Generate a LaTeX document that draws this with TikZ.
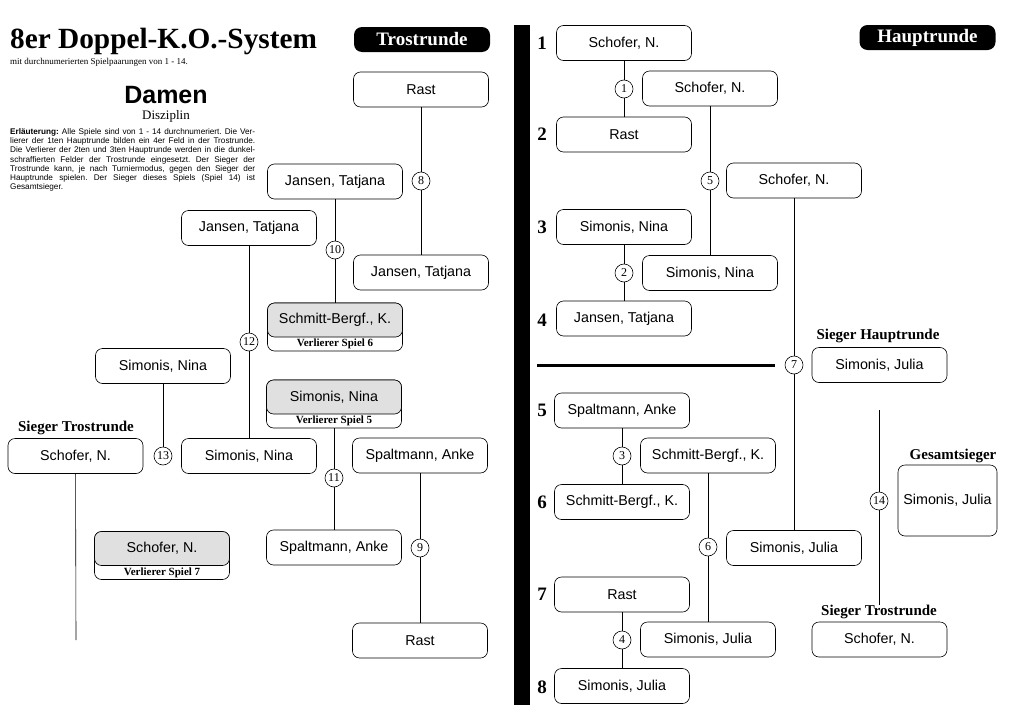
\documentclass[tikz,border=0pt]{standalone}
\usepackage{fontspec}
\setmainfont{Liberation Serif}
\setsansfont{Liberation Sans}
\newcommand\jline[1]{\hbox to 245pt{#1}}
\begin{document}
\frenchspacing
\begin{tikzpicture}[x=1pt,y=-1pt,
  pbox/.style={draw, rounded corners=7pt, minimum width=135pt, minimum height=35pt, inner sep=0pt, line width=0.6pt, font=\sffamily\fontsize{14.3}{14.3}\selectfont},
  shadedbox/.style={pbox, fill=black!12},
  vouter/.style={draw, rounded corners=7pt, minimum width=135pt, minimum height=48pt, inner sep=0pt, line width=0.6pt},
  vlab/.style={font=\bfseries\fontsize{11}{11}\selectfont, inner sep=0pt},
  gnum/.style={draw, circle, minimum size=18pt, inner sep=0pt, line width=0.6pt, fill=white, font=\fontsize{12}{12}\selectfont},
  headbox/.style={fill=black, rounded corners=8pt, minimum width=136pt, minimum height=25pt, inner sep=0pt, text=white, font=\bfseries\fontsize{19}{19}\selectfont},
  rnum/.style={font=\bfseries\fontsize{19}{19}\selectfont, inner sep=0pt},
  slab/.style={font=\bfseries\fontsize{15}{15}\selectfont, inner sep=0pt},
  conn/.style={line width=0.6pt}
]
\useasboundingbox (0,0) rectangle (1017,720);

% ---------- header left ----------
\node[anchor=base west, inner sep=0pt, font=\bfseries\fontsize{29.3}{29.3}\selectfont] (title) at (10,48) {8er Doppel-K.O.-System};
\node[anchor=base west, inner sep=0pt, font=\fontsize{9}{9}\selectfont] (sub) at (10,64) {mit durchnumerierten Spielpaarungen von 1 - 14.};
\node[inner sep=0pt, font=\sffamily\bfseries\fontsize{25}{25}\selectfont] (damen) at (166,95) {Damen};
\node[inner sep=0pt, font=\fontsize{13}{13}\selectfont] (disz) at (166,116) {Disziplin};
\node[anchor=north west, inner sep=0pt, font=\sffamily\fontsize{8.2}{8.2}\selectfont] (expl) at (10,128) {\vbox{\baselineskip=9.3pt
\jline{\textbf{Erläuterung:} Alle Spiele sind von 1 - 14 durchnumeriert. Die Ver-}
\jline{lierer der 1ten Hauptrunde bilden ein 4er Feld in der Trostrunde.}
\jline{Die Verlierer der 2ten und 3ten Hauptrunde werden in die dunkel-}
\jline{schraffierten Felder der Trostrunde eingesetzt. Der Sieger der}
\jline{Trostrunde kann, je nach Turniermodus, gegen den Sieger der}
\jline{Hauptrunde spielen. Der Sieger dieses Spiels (Spiel 14) ist}
\hbox{Gesamtsieger.}}};

\node[headbox] (hT) at (422,39.5) {Trostrunde};
\node[headbox] (hH) at (927.5,37.5) {Hauptrunde};

% ---------- divider ----------
\fill (514,25) rectangle (530,705);
\draw[line width=3pt] (537,365) -- (775,365);

% ---------- Hauptrunde ----------
\node[rnum] (n1) at (542,43) {1};
\node[rnum] (n2) at (542,134) {2};
\node[rnum] (n3) at (542,227) {3};
\node[rnum] (n4) at (542,320) {4};
\node[rnum] (n5) at (542,410) {5};
\node[rnum] (n6) at (542,502) {6};
\node[rnum] (n7) at (542,594) {7};
\node[rnum] (n8) at (542,687) {8};

\node[pbox] (r1) at (624,43) {Schofer, N.};
\node[pbox] (r2) at (624,134.5) {Rast};
\node[pbox] (r3) at (624,227) {Simonis, Nina};
\node[pbox] (r4) at (624,318.5) {Jansen, Tatjana};
\node[pbox] (r5) at (622,410.5) {Spaltmann, Anke};
\node[pbox] (r6) at (622,502) {Schmitt-Bergf., K.};
\node[pbox] (r7) at (622,594.5) {Rast};
\node[pbox] (r8) at (622,686) {Simonis, Julia};
\node[gnum] (g1) at (624,89) {1};
\node[gnum] (g2) at (624,273) {2};
\node[gnum] (g3) at (622,456) {3};
\node[gnum] (g4) at (622,640) {4};

\node[pbox] (w1) at (710,88.5) {Schofer, N.};
\node[pbox] (w2) at (710,273) {Simonis, Nina};
\node[pbox] (w3) at (708,455.5) {Schmitt-Bergf., K.};
\node[pbox] (w4) at (708,639.5) {Simonis, Julia};
\node[gnum] (g5) at (710,181) {5};
\node[gnum] (g6) at (708,547) {6};

\node[pbox] (w5) at (794,180.5) {Schofer, N.};
\node[pbox] (w6) at (794,548) {Simonis, Julia};
\node[gnum] (g7) at (794,365) {7};

\node[slab] (shl) at (878,336) {Sieger Hauptrunde};
\node[pbox] (sh) at (879.5,365) {Simonis, Julia};
\coordinate (l14top) at (879,410);
\node[gnum] (g14) at (879,501) {14};
\node[slab] (gsl) at (953,456) {Gesamtsieger};
\node[pbox, minimum width=99pt, minimum height=71pt] (gs) at (947.5,500.5) {Simonis, Julia};
\node[slab] (stl) at (879,612) {Sieger Trostrunde};
\node[pbox] (st) at (879.5,639.5) {Schofer, N.};

\draw[conn] (r1) -- (g1) -- (r2);
\draw[conn] (r3) -- (g2) -- (r4);
\draw[conn] (r5) -- (g3) -- (r6);
\draw[conn] (r7) -- (g4) -- (r8);
\draw[conn] (w1) -- (g5) -- (w2);
\draw[conn] (w3) -- (g6) -- (w4);
\draw[conn] (w5) -- (g7) -- (w6);
\draw[conn] (l14top) -- (g14) -- (stl);

% ---------- Trostrunde ----------
\node[pbox] (t1) at (421,89.5) {Rast};
\node[gnum] (g8) at (421,181) {8};
\node[pbox] (t2) at (421,272.5) {Jansen, Tatjana};
\node[pbox] (t8) at (335,181.5) {Jansen, Tatjana};
\node[gnum] (g10) at (335,250) {10};

\node[vouter] (v6) at (335,327) {};
\node[shadedbox, minimum height=34pt] (v6n) at (335,320) {Schmitt-Bergf., K.};
\node[vlab] (v6l) at (335,344) {Verlierer Spiel 6};

\node[pbox] (t10) at (249,228) {Jansen, Tatjana};
\node[gnum] (g12) at (249,342) {12};

\node[vouter] (v5) at (334,404) {};
\node[shadedbox, minimum height=34pt] (v5n) at (334,397) {Simonis, Nina};
\node[vlab] (v5l) at (334,421) {Verlierer Spiel 5};

\node[gnum] (g11) at (334,478) {11};
\node[pbox] (t11b) at (334,547.5) {Spaltmann, Anke};
\node[pbox] (t9a) at (420,455.5) {Spaltmann, Anke};
\node[gnum] (g9) at (420,548) {9};
\node[pbox] (t9b) at (420,640.5) {Rast};
\node[pbox] (t11) at (249,456) {Simonis, Nina};
\node[pbox] (t12) at (163,366) {Simonis, Nina};
\node[gnum] (g13) at (163,456) {13};
\node[slab] (tstl) at (76,428) {Sieger Trostrunde};
\node[pbox] (tst) at (75.5,456) {Schofer, N.};
\coordinate (tend) at (76,640);

\node[vouter] (v7) at (162,555.5) {};
\node[shadedbox, minimum height=34pt] (v7n) at (162,548.5) {Schofer, N.};
\node[vlab] (v7l) at (162,572.5) {Verlierer Spiel 7};

\draw[conn] (t1) -- (g8) -- (t2);
\draw[conn] (t8) -- (g10) -- (v6n);
\draw[conn] (t10) -- (g12) -- (t11);
\draw[conn] (v5) -- (g11) -- (t11b);
\draw[conn] (t9a) -- (g9) -- (t9b);
\draw[conn] (t12) -- (g13);
\draw[conn] (tst) -- (tend);
\end{tikzpicture}
\end{document}
